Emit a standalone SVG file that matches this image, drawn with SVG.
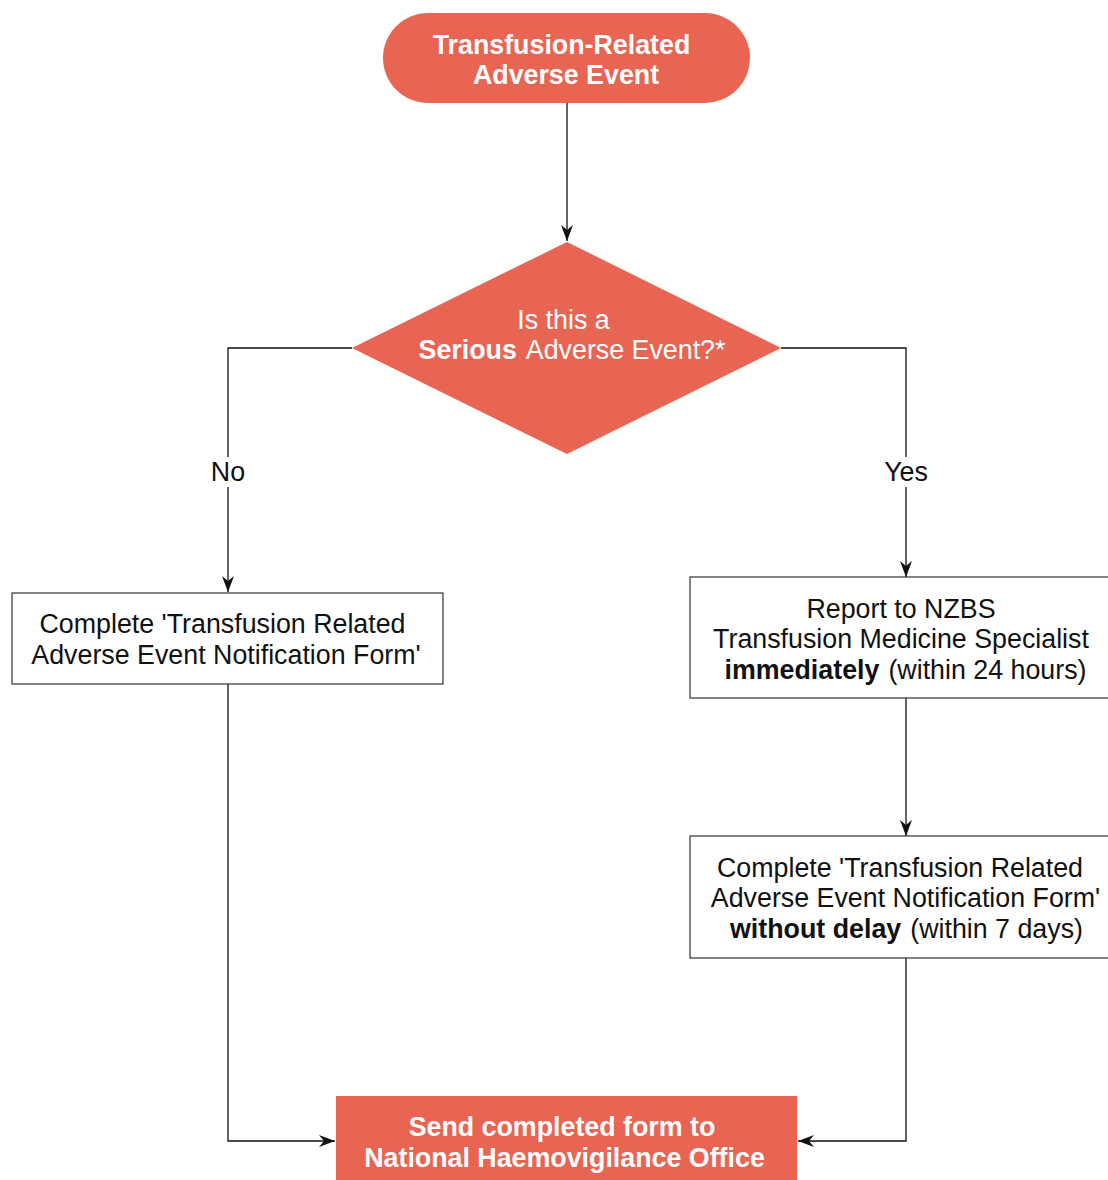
<svg xmlns="http://www.w3.org/2000/svg" width="1108" height="1180" viewBox="0 0 1108 1180">
<style>
.red{fill:#E86553;}
.box{fill:#fff;stroke:#333;stroke-width:1.2;}
.wt{font-family:"Liberation Sans",Arial,sans-serif;font-size:26.8px;fill:#fff;text-anchor:middle;}
.bt{font-family:"Liberation Sans",Arial,sans-serif;font-size:26.8px;fill:#111;text-anchor:middle;}
.b{font-weight:bold;}
.ln{fill:none;stroke:#111;stroke-width:1.3;}
</style>
<defs>
<marker id="ah" markerUnits="userSpaceOnUse" markerWidth="18" markerHeight="14" refX="16" refY="6" orient="auto">
<path d="M0,0 L16,6 L0,12 L5,6 z" fill="#111"/>
</marker>
</defs>
<g id="connectors">
<path class="ln" d="M567,103 V241" marker-end="url(#ah)"/>
<path class="ln" d="M352,348 H228 V457"/>
<path class="ln" d="M228,487 V592" marker-end="url(#ah)"/>
<path class="ln" d="M781,348 H906 V457"/>
<path class="ln" d="M906,487 V577" marker-end="url(#ah)"/>
<path class="ln" d="M906,698 V836" marker-end="url(#ah)"/>
<path class="ln" d="M228,684 V1141 H335" marker-end="url(#ah)"/>
<path class="ln" d="M906,958 V1141 H798" marker-end="url(#ah)"/>
<text class="bt" x="228" y="481">No</text>
<text class="bt" x="906" y="481">Yes</text>
</g>
<g id="start">
<rect class="red" x="383" y="13" width="367" height="90" rx="45" ry="45"/>
<text class="wt b" x="561.5" y="54">Transfusion-Related</text>
<text class="wt b" x="566" y="84">Adverse Event</text>
</g>
<g id="decision">
<polygon class="red" points="567,242 781,348 567,454 352,348"/>
<text class="wt" x="563.5" y="329">Is this a</text>
<text class="wt" x="572" y="359"><tspan class="b">Serious</tspan><tspan dx="9">Adverse Event?*</tspan></text>
</g>
<g id="no-form">
<rect class="box" x="12" y="593" width="431" height="91"/>
<text class="bt" x="222.5" y="633">Complete 'Transfusion Related</text>
<text class="bt" x="226" y="664">Adverse Event Notification Form'</text>
</g>
<g id="report">
<rect class="box" x="690" y="577" width="425" height="121"/>
<text class="bt" x="901" y="618">Report to NZBS</text>
<text class="bt" x="901" y="648">Transfusion Medicine Specialist</text>
<text class="bt" x="905.5" y="679"><tspan class="b">immediately</tspan><tspan dx="9">(within 24 hours)</tspan></text>
</g>
<g id="yes-form">
<rect class="box" x="690" y="836" width="425" height="122"/>
<text class="bt" x="900" y="877">Complete 'Transfusion Related</text>
<text class="bt" x="905.5" y="907">Adverse Event Notification Form'</text>
<text class="bt" x="906.5" y="938"><tspan class="b">without delay</tspan><tspan dx="9">(within 7 days)</tspan></text>
</g>
<g id="send">
<rect class="red" x="336" y="1096" width="461" height="84"/>
<text class="wt b" x="562" y="1136">Send completed form to</text>
<text class="wt b" x="564.5" y="1167">National Haemovigilance Office</text>
</g>
</svg>
